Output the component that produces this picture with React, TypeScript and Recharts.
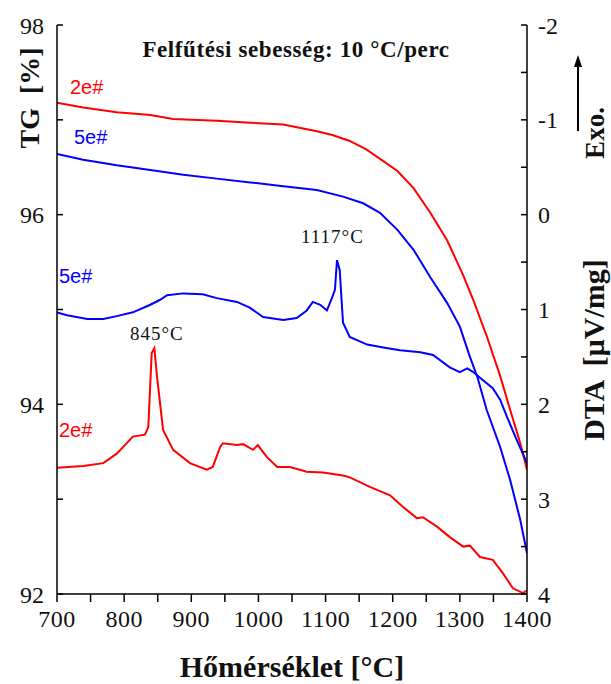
import React from "react";
import { LineChart, Line, XAxis, YAxis } from "recharts";

// TG curves (left axis, %)
const tg2eTemp = [700, 739, 789, 839, 873, 938, 988, 1037, 1087, 1110, 1135, 1160, 1185, 1207, 1231, 1256, 1281, 1305, 1320, 1340, 1360, 1375, 1390, 1400];
const tg2eVal = [97.18, 97.13, 97.08, 97.05, 97.01, 96.99, 96.97, 96.95, 96.88, 96.84, 96.78, 96.69, 96.57, 96.46, 96.28, 96.02, 95.73, 95.36, 95.1, 94.72, 94.3, 93.94, 93.59, 93.31];

const tg5eTemp = [700, 739, 789, 839, 888, 938, 988, 1037, 1087, 1126, 1156, 1181, 1207, 1231, 1256, 1281, 1300, 1315, 1326, 1340, 1360, 1375, 1390, 1400];
const tg5eVal = [96.64, 96.58, 96.52, 96.47, 96.42, 96.38, 96.34, 96.3, 96.26, 96.19, 96.12, 96.02, 95.84, 95.63, 95.34, 95.07, 94.82, 94.5, 94.29, 93.94, 93.55, 93.2, 92.78, 92.43];

// DTA curves (right axis, µV/mg)
const dta5eTemp = [700, 715, 745, 769, 789, 813, 839, 853, 864, 888, 917, 938, 968, 987, 1007, 1037, 1057, 1072, 1081, 1092, 1102, 1110, 1114, 1117, 1121, 1126, 1136, 1162, 1186, 1211, 1241, 1260, 1285, 1300, 1311, 1320, 1330, 1349, 1360, 1370, 1385, 1400];
const dta5eVal = [1.03, 1.06, 1.1, 1.1, 1.07, 1.03, 0.95, 0.9, 0.85, 0.83, 0.84, 0.88, 0.92, 0.98, 1.08, 1.11, 1.09, 1.01, 0.92, 0.95, 1.01, 0.87, 0.79, 0.48, 0.58, 1.14, 1.29, 1.37, 1.4, 1.43, 1.45, 1.48, 1.61, 1.66, 1.62, 1.66, 1.72, 1.83, 1.95, 2.13, 2.38, 2.62];

const dta2eTemp = [700, 739, 769, 789, 813, 831, 836, 841, 845, 849, 858, 873, 898, 923, 932, 943, 947, 968, 977, 992, 999, 1013, 1028, 1047, 1072, 1096, 1126, 1136, 1166, 1196, 1215, 1236, 1245, 1266, 1285, 1305, 1315, 1330, 1349, 1364, 1379, 1394, 1400];
const dta2eVal = [2.67, 2.65, 2.62, 2.52, 2.34, 2.32, 2.24, 1.46, 1.41, 1.71, 2.27, 2.48, 2.62, 2.69, 2.66, 2.45, 2.41, 2.43, 2.42, 2.48, 2.43, 2.56, 2.66, 2.66, 2.71, 2.72, 2.75, 2.77, 2.87, 2.96, 3.08, 3.2, 3.19, 3.29, 3.4, 3.5, 3.49, 3.61, 3.64, 3.78, 3.94, 3.99, 3.96];

const xTicks = [700, 750, 800, 850, 900, 950, 1000, 1050, 1100, 1150, 1200, 1250, 1300, 1350, 1400];
const tgTicks = [92, 93, 94, 95, 96, 97, 98];
const dtaTicks = [-2, -1.5, -1, -0.5, 0, 0.5, 1, 1.5, 2, 2.5, 3, 3.5, 4];

const toPoints = (temps: number[], vals: number[]) =>
  temps.map((t, i) => ({ t, v: vals[i] }));

const serif = "'Liberation Serif', 'Times New Roman', serif";
const sans = "'Liberation Sans', Arial, sans-serif";

const App: React.FC = () => {
  const tickStyle = { fontFamily: serif, fontSize: 24, fill: "#111" };
  const axisStroke = { stroke: "#000", strokeWidth: 1.5 };
  return (
    <div style={{ position: "absolute", left: 0, top: 0, width: 611, height: 684, background: "#fff" }}>
      <LineChart width={611} height={684} margin={{ top: 25, right: 44, left: 17, bottom: 60 }}>
        <XAxis
          dataKey="t"
          type="number"
          domain={[700, 1400]}
          allowDataOverflow
          ticks={xTicks}
          tickFormatter={(v: number) => (v % 100 === 0 ? String(v) : "")}
          height={30}
          tickSize={8}
          tickMargin={8}
          axisLine={axisStroke}
          tickLine={axisStroke}
          tick={{ ...tickStyle, letterSpacing: 0.5 }}
        />
        <XAxis
          xAxisId="top"
          dataKey="t"
          type="number"
          domain={[700, 1400]}
          orientation="top"
          height={0}
          tick={false}
          tickLine={false}
          axisLine={axisStroke}
        />
        <YAxis
          yAxisId="tg"
          domain={[92, 98]}
          allowDataOverflow
          ticks={tgTicks}
          tickFormatter={(v: number) => (v % 2 === 0 ? String(v) : "")}
          width={40}
          tickSize={-6}
          tickMargin={19}
          axisLine={axisStroke}
          tickLine={axisStroke}
          tick={tickStyle}
        />
        <YAxis
          yAxisId="dta"
          orientation="right"
          domain={[-2, 4]}
          reversed
          allowDataOverflow
          ticks={dtaTicks}
          tickFormatter={(v: number) => (Number.isInteger(v) ? String(v) : "")}
          width={40}
          tickSize={-6}
          tickMargin={17}
          axisLine={axisStroke}
          tickLine={axisStroke}
          tick={tickStyle}
        />
        <Line yAxisId="tg" data={toPoints(tg2eTemp, tg2eVal)} dataKey="v" type="linear" stroke="#ff0000" strokeWidth={2} dot={false} isAnimationActive={false} />
        <Line yAxisId="tg" data={toPoints(tg5eTemp, tg5eVal)} dataKey="v" type="linear" stroke="#0000ff" strokeWidth={2} dot={false} isAnimationActive={false} />
        <Line yAxisId="dta" data={toPoints(dta5eTemp, dta5eVal)} dataKey="v" type="linear" stroke="#0000ff" strokeWidth={2} dot={false} isAnimationActive={false} />
        <Line yAxisId="dta" data={toPoints(dta2eTemp, dta2eVal)} dataKey="v" type="linear" stroke="#ff0000" strokeWidth={2} dot={false} isAnimationActive={false} />
      </LineChart>
      <svg width={611} height={684} style={{ position: "absolute", left: 0, top: 0, pointerEvents: "none" }}>
        <text x={296} y={57} textAnchor="middle" fontFamily={serif} fontWeight="bold" fontSize={23} letterSpacing={0.6} fill="#111">
          Felfűtési sebesség: 10 °C/perc
        </text>
        <text x={70} y={94} fontFamily={sans} fontSize={20} fill="#ff0000">2e#</text>
        <text x={74} y={144} fontFamily={sans} fontSize={20} fill="#0000ff">5e#</text>
        <text x={59} y={283} fontFamily={sans} fontSize={20} fill="#0000ff">5e#</text>
        <text x={59} y={437} fontFamily={sans} fontSize={20} fill="#ff0000">2e#</text>
        <text x={130} y={340} fontFamily={serif} fontSize={19} letterSpacing={1} fill="#111">845°C</text>
        <text x={301} y={243} fontFamily={serif} fontSize={19} letterSpacing={1} fill="#111">1117°C</text>
        <text x={292} y={677} textAnchor="middle" fontFamily={serif} fontWeight="bold" fontSize={30} fill="#111">
          Hőmérséklet [°C]
        </text>
        <text transform="translate(39,98) rotate(-90)" textAnchor="middle" fontFamily={serif} fontWeight="bold" fontSize={28} fill="#111" style={{ whiteSpace: "pre" }}>
          {"TG  [%]"}
        </text>
        <text transform="translate(604,350) rotate(-90)" textAnchor="middle" fontFamily={serif} fontWeight="bold" fontSize={30} fill="#111" style={{ whiteSpace: "pre" }}>
          {"DTA  [µV/mg]"}
        </text>
        <text transform="translate(604,133) rotate(-90)" textAnchor="middle" fontFamily={serif} fontWeight="bold" fontSize={27} fill="#111">
          Exo.
        </text>
        <line x1={578} y1={131} x2={578} y2={64} stroke="#000" strokeWidth={2} />
        <polygon points="578,55 574,67 582,67" fill="#000" />
      </svg>
    </div>
  );
};

export default App;
